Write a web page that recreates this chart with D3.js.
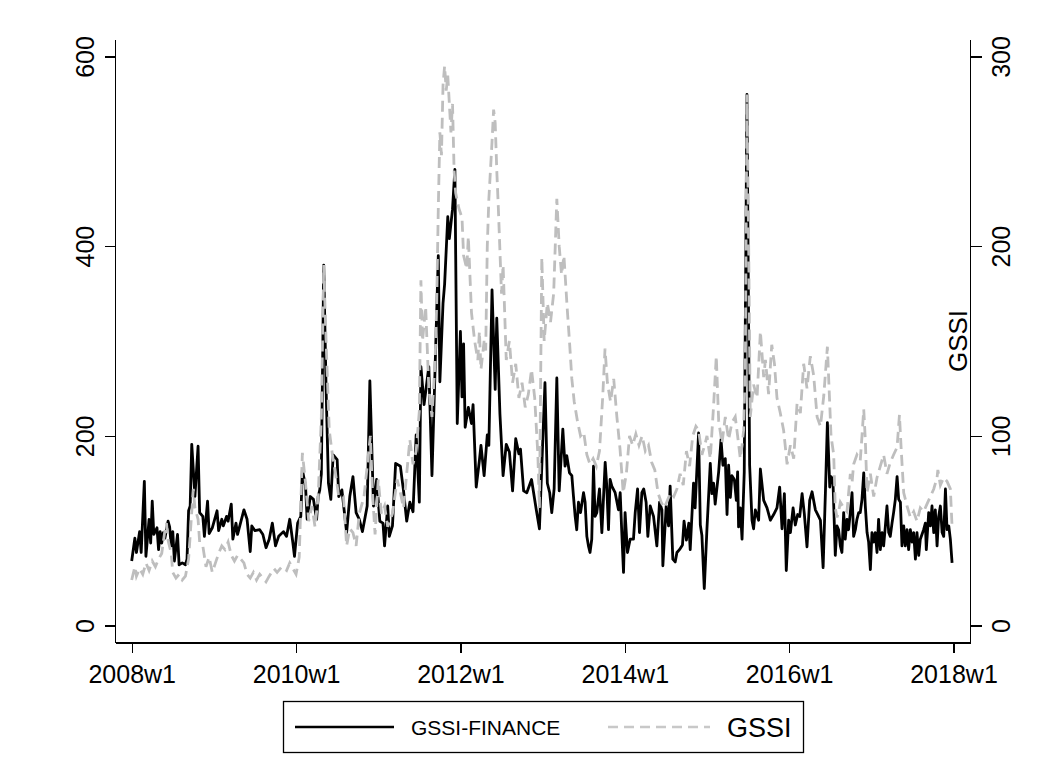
<!DOCTYPE html>
<meta charset="utf-8">
<style>
  body { margin: 0; background: #fff; }
  svg { display: block; }
  text { font-family: "Liberation Sans", Arial, sans-serif; fill: #000; }
  .axis line { stroke: #000; stroke-width: 1.3; shape-rendering: crispEdges; }
</style>
<div id="chart"></div>
<script src="https://cdn.jsdelivr.net/npm/d3@7/dist/d3.min.js"></script>
<script>
  // week index 0 = 2008w1 (52 weeks per year)
  var finWeek = [0,2,3,5,6,8,9,11,12,13,14,16,17,18,19,20,21,23,24,25,26,27,29,30,32,34,35,36,37,38,40,42,43,45,46,48,49,51,54,55,57,58,60,61,63,64,66,67,71,73,75,76,78,81,83,85,87,
    89,91,93,96,98,100,102,103,105,107,108,110,111,113,115,117,118,119,120,121.5,123,124.5,126,127.5,130,131,133,136,138,140,142,144,146,149,150.7,153,155,157,159,160,162,163,165,167,
    170,172,174,176,178,179,180,182,183,185,188,190,192,194,195,197,198,200,201,203,204.5,206,208,209,210,211,213,215,216,218,220,221,223,225,226,228,230,231,233,235,237,239,241,243,245,246,248,250,253,256,258,
    261.5,263,264.5,265.8,267.3,269,270.5,272.8,274.2,275.3,277,278.5,279.5,280.6,281.6,282.7,284,285.9,286.9,288,289,290,291.1,292.2,293.2,294.3,296,297.5,299.6,300.6,301.7,302.7,303.8,305.9,308,309.1,310.1,311.2,312.2,313.7,315.4,317.5,318.6,320.1,321.3,322.8,324,325.5,326.6,328.1,330.2,332.3,334,335.5,336.1,338.2,339.7,340.7,342.4,343.9,345,346.6,
    348.5,349.5,351,352.5,353.4,355.5,356.5,358.7,359.8,360.8,362.3,364,366.1,367.1,368.2,369.2,371.4,372.9,374.1,375.6,376.7,377.7,378.8,379.8,381.3,382.6,383.4,384,385.1,386.2,387.6,389.3,391,392.5,393.5,394.6,396.7,397.8,399.9,402,404.1,406.2,408.3,410,411.5,413,414.2,415.7,416.8,418.5,419.9,421.4,422.7,424.2,425.6,427.3,429,430.5,432.6,434.1,435.8,437.5,439,440.2,441.7,
    442.5,443.7,445.2,446.3,447.3,448.4,449.4,450.5,451.5,452.6,453.6,454.7,455.8,456.8,457.9,458.9,460,461,462.1,463.2,464.2,465.3,466.3,467.4,468.4,469.5,470.5,471.6,472.6,473.7,474.8,475.8,476.9,477.9,479,480,481.1,482.1,483.2,484.3,485.3,486.4,487.4,488.5,489.5,490.6,491.6,492.7,493.8,494.8,495.9,496.9,498,499,501.1,502.2,502.8,504.3,505.4,506.4,507.5,508.5,509.6,510.6,511.7,512.8,513.8,514.9,515.9,517,518,519.1];
  var finVal = [68,92,77,99,77,152,73,112,87,131,96,103,80,99,87,98,92,110,104,84,99,68,96,64,66,64,70,121,126,191,136,189,119,115,94,131,97,103,121,100,112,105,115,110,128,91,108,96,122,112,78,105,100,101,96,82,91,
    108,84,94,99,94,112,87,73,108,115,164,147,112,136,133,112,136,143,160,380,250,150,133,180,175,136,143,98,136,157,119,112,99,126,258,126,154,110,108,84,126,94,105,171,
    168,142,110,130,120,160,201,130,273,233,273,158,273,390,257,340,360,431,408,439,481,213,310,241,297,209,230,213,233,146,174,190,158,201,190,354,249,324,223,158,191,183,142,197,181,186,142,140,154,122,102,
    256,150,140,119,144,261,142,207,168,179,161,158,137,115,101,130,119,140,130,94,84,77,91,168,115,119,144,98,172,147,101,154,147,140,122,140,98,56,119,77,91,91,119,144,98,140,144,130,94,126,115,84,130,122,63,126,105,147,70,67,77,80,
    85,110,90,108,80,150,124,203,106,95,39,102,171,139,150,128,162,196,169,176,117,169,135,158,154,132,162,104,124,91,162,560,169,111,102,122,111,165,132,124,111,117,124,146,102,139,58,111,98,124,106,117,115,139,118,83,132,141,122,117,111,61,143,214,146,
    157,154,74,105,101,84,77,119,91,112,101,119,140,94,101,112,119,119,133,161,126,98,88,59,98,88,98,77,112,80,98,84,105,126,98,94,108,119,133,157,133,130,84,105,84,101,80,101,88,98,70,98,74,91,101,108,80,119,105,126,98,122,84,115,126,98,94,144,101,105,91,66];

  var gssiWeek = [0,2,3,5,7,9,11,13,15,17,19,21,22,23,25,26,28,30,32,34,36,38,39,40,42,43,45,47,49,51,53,55,57,59,61,63,65,67,69,71,73,75,77,79,81,83,85,87,
    90,92,95,98,100,102,104,106,108,110,112,114,116,118,120,121.5,123,125,127,129,131,134,136,138,140,142,144,147,151,152.5,154,156,158,160,162,165,168,
    170,172,174,176,178,180,182,183,184,186,188,190,192,193,194,195,196,197,198,199,200,202,203,204,205,207,209,210,212,213,215,217,219,220,221,223,224,225,226,228,229,230,231,232,234,235,237,239,241,243,245,247,249,251,253,255,257,258,
    259.5,261,263,265,267,269,270.5,272,273.5,275.5,277,278.5,280,282,284,286,288,290,292,294,296,298,299.5,301,303,305,307,309,311,313,315,317,319,321,323,325,327,329,331,333,335,337,339,341,343,345,
    347,349,351,353,355,357,358.7,360.8,362.9,364,366.1,368.2,369.9,371.4,373.5,375.6,377.7,379.8,381.9,383.4,385.1,386.2,387.2,388.3,389.3,390.4,391.4,393.5,395.7,397.8,399.9,401,403,405,406.7,408.3,410.4,412.5,414.7,416.8,418.9,421,423.1,425.2,427.3,429.4,431.5,433.7,435.8,437.9,440.2,
    442.5,444.2,445.2,446.3,447.3,448.4,450.5,452.6,454.7,455.8,456.8,458.9,461,462.1,463.2,464.2,465.3,467.4,469.5,471.6,473.7,475.8,477.9,480,482.1,484.3,485.8,486.9,488.5,490.6,492.7,494.8,496.9,499,501.1,503.2,505.4,507.5,509.6,510.1,511.7,513.8,515.9,518,519.1];
  var gssiVal = [24,31,26,30,27,33,29,34,31,35,38,50,54,45,38,28,25,27,24,26,35,60,72,62,56,44,42,31,36,28,33,38,42,40,44,37,34,37,35,33,27,25,28,24,27,25,23,26,
    30,28,31,29,33,30,27,36,91,75,55,63,52,68,110,190,150,103,90,80,68,68,42,51,49,42,59,68,100,68,48,77,59,63,52,59,77,
    70,62,80,98,85,92,113,182,150,168,125,110,140,170,220,260,248,285,295,282,290,260,275,240,228,220,215,195,188,205,165,150,140,155,135,150,145,200,225,255,272,265,240,220,175,190,140,150,128,138,120,128,115,122,135,120,90,62,
    194,150,170,160,175,225,200,185,195,168,150,130,118,108,100,102,90,85,88,84,92,120,146,128,118,130,110,93,70,80,100,95,101,95,100,92,95,86,82,70,65,62,66,70,68,72,
    80,74,92,84,100,105,103,90,96,100,88,116,142,108,96,110,98,107,110,100,88,95,103,140,280,200,110,127,120,155,131,140,122,148,138,120,112,103,85,95,88,117,112,138,125,142,132,110,105,121,147,
    100,90,62,57,60,65,62,60,80,75,85,90,87,100,114,98,70,80,68,78,84,90,80,86,90,94,111,93,70,63,57,60,55,62,60,64,68,72,78,82,74,78,76,72,52];

  var xTickWeeks = [0, 104, 208, 312, 416, 520];
  var xTickLabels = ["2008w1", "2010w1", "2012w1", "2014w1", "2016w1", "2018w1"];
  var leftTicks = [0, 200, 400, 600];
  var rightTicks = [0, 100, 200, 300];
  var seriesNames = ["GSSI-FINANCE", "GSSI"];

  var W = 1064, H = 778;
  var plot = {left: 115.5, right: 970.5, top: 40, bottom: 643};

  var x = d3.scaleLinear().domain([0, 520]).range([131.7, 953.5]);
  var yL = d3.scaleLinear().domain([0, 600]).range([625.5, 56.5]);
  var yR = d3.scaleLinear().domain([0, 300]).range([625.5, 56.5]);

  var svg = d3.select("#chart").append("svg")
      .attr("width", W)
      .attr("height", H);

  svg.append("rect").attr("width", W).attr("height", H).attr("fill", "#fff");

  // axis frame lines (left, right, bottom)
  var frame = svg.append("g").attr("class", "axis");
  frame.append("line").attr("x1", plot.left).attr("x2", plot.left).attr("y1", plot.top).attr("y2", plot.bottom);
  frame.append("line").attr("x1", plot.right).attr("x2", plot.right).attr("y1", plot.top).attr("y2", plot.bottom);
  frame.append("line").attr("x1", plot.left).attr("x2", plot.right).attr("y1", plot.bottom).attr("y2", plot.bottom);

  var leftAxis = d3.axisLeft(yL).tickValues(leftTicks).tickSize(11).tickFormat(d3.format("d"));
  var gL = svg.append("g").attr("class", "axis").attr("transform", "translate(" + plot.left + ",0)").call(leftAxis);
  gL.select(".domain").remove();
  gL.selectAll("text")
      .attr("x", null).attr("dy", null)
      .attr("font-size", 25)
      .attr("text-anchor", "middle")
      .attr("transform", "translate(-22,0) rotate(-90)");

  var rightAxis = d3.axisRight(yR).tickValues(rightTicks).tickSize(11).tickFormat(d3.format("d"));
  var gR = svg.append("g").attr("class", "axis").attr("transform", "translate(" + plot.right + ",0)").call(rightAxis);
  gR.select(".domain").remove();
  gR.selectAll("text")
      .attr("x", null).attr("dy", null)
      .attr("font-size", 25)
      .attr("text-anchor", "middle")
      .attr("transform", "translate(39,0) rotate(-90)");

  var bottomAxis = d3.axisBottom(x).tickValues(xTickWeeks).tickSize(10)
      .tickFormat(function(d, i) { return xTickLabels[i]; });
  var gB = svg.append("g").attr("class", "axis").attr("transform", "translate(0," + plot.bottom + ")").call(bottomAxis);
  gB.select(".domain").remove();
  gB.selectAll("text")
      .attr("y", 40).attr("dy", null)
      .attr("font-size", 25);

  // right axis title, sits just inside the right axis
  svg.append("text")
      .attr("transform", "translate(967,341) rotate(-90)")
      .attr("text-anchor", "middle")
      .attr("font-size", 26)
      .text("GSSI");

  var finData = finWeek.map(function(w, i) { return [w, finVal[i]]; });
  var gssiData = gssiWeek.map(function(w, i) { return [w, gssiVal[i]]; });

  var lineL = d3.line().x(function(d) { return x(d[0]); }).y(function(d) { return yL(d[1]); });
  var lineR = d3.line().x(function(d) { return x(d[0]); }).y(function(d) { return yR(d[1]); });

  svg.append("path")
      .datum(finData)
      .attr("d", lineL)
      .attr("fill", "none")
      .attr("stroke", "#000")
      .attr("stroke-width", 2.8)
      .attr("stroke-linejoin", "round");

  svg.append("path")
      .datum(gssiData)
      .attr("d", lineR)
      .attr("fill", "none")
      .attr("stroke", "#bebebe")
      .attr("stroke-width", 2.8)
      .attr("stroke-dasharray", "11,6");

  // legend
  var lg = svg.append("g");
  lg.append("rect")
      .attr("x", 283.5).attr("y", 701.5).attr("width", 520).attr("height", 51)
      .attr("fill", "#fff").attr("stroke", "#000").attr("stroke-width", 1.3);
  lg.append("line")
      .attr("x1", 295).attr("x2", 394).attr("y1", 727).attr("y2", 727)
      .attr("stroke", "#000").attr("stroke-width", 2.6);
  lg.append("text")
      .attr("x", 411).attr("y", 735).attr("font-size", 21)
      .text(seriesNames[0]);
  lg.append("line")
      .attr("x1", 608).attr("x2", 710).attr("y1", 727).attr("y2", 727)
      .attr("stroke", "#c8c8c8").attr("stroke-width", 2.6).attr("stroke-dasharray", "10,6");
  lg.append("text")
      .attr("x", 727).attr("y", 737).attr("font-size", 27)
      .text(seriesNames[1]);
</script>
